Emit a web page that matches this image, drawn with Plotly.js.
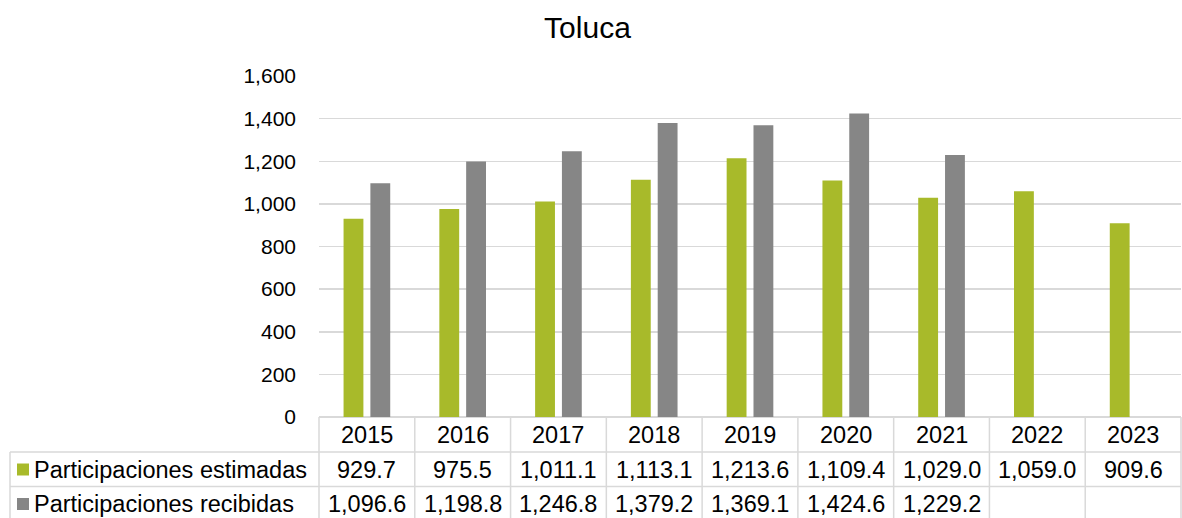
<!DOCTYPE html>
<html>
<head>
<meta charset="utf-8">
<script src="https://cdn.plot.ly/plotly-3.0.1.min.js"></script>
<style>html,body{margin:0;padding:0;background:#fff;} #chart{width:1182px;height:518px;}</style>
</head>
<body>
<div id="chart"></div>
<script>
// ---- data ----
var years = ['2015','2016','2017','2018','2019','2020','2021','2022','2023'];
var seriesNames = ['Participaciones estimadas','Participaciones recibidas'];
var estimadas = [929.7, 975.5, 1011.1, 1113.1, 1213.6, 1109.4, 1029.0, 1059.0, 909.6];
var recibidas = [1096.6, 1198.8, 1246.8, 1379.2, 1369.1, 1424.6, 1229.2, null, null];
var yTicks = [0, 200, 400, 600, 800, 1000, 1200, 1400, 1600];

// ---- styling / geometry ----
var W = 1182, H = 518;
var M = {l: 319, r: 1, t: 76, b: 101};
var colors = ['#A8BA2A', '#868686'];
var gridColor = '#D9D9D9';
var FONT = 'Liberation Sans, Arial, sans-serif';
var TABLE_SIZE = 23.5;
var plotBottom = H - M.b, plotH = H - M.t - M.b, plotW = W - M.l - M.r;
function py(p) { return (plotBottom - p) / plotH; }      // pixel y -> paper y
function px(p) { return (p - M.l) / plotW; }             // pixel x -> paper x
var rowLines = [452, 486.5, 522];   // bottom of header, row1, row2
var rowCenters = [434.5, 469.5, 504];

function fmt(v) {
  return v == null ? '' : v.toLocaleString('en-US', {minimumFractionDigits: 1, maximumFractionDigits: 1});
}

var traces = [
  {type: 'bar', x: years, y: estimadas, name: seriesNames[0], marker: {color: colors[0]}, hoverinfo: 'skip'},
  {type: 'bar', x: years, y: recibidas, name: seriesNames[1], marker: {color: colors[1]}, hoverinfo: 'skip'}
];

var shapes = [];
var annotations = [];
var lineStyle = {color: gridColor, width: 1.5};
// horizontal table lines
rowLines.forEach(function (r, i) {
  if (i < 2) shapes.push({type: 'line', xref: 'paper', yref: 'paper', x0: px(10), x1: 1, y0: py(r), y1: py(r), line: lineStyle});
});
// vertical lines: left label border, plot left edge, category boundaries, right edge
shapes.push({type: 'line', xref: 'paper', yref: 'paper', x0: px(10), x1: px(10), y0: py(rowLines[0]), y1: py(rowLines[2]), line: lineStyle});
shapes.push({type: 'line', xref: 'paper', yref: 'paper', x0: 0, x1: 0, y0: py(plotBottom), y1: py(rowLines[2]), line: lineStyle});
shapes.push({type: 'line', xref: 'paper', yref: 'paper', x0: 1, x1: 1, y0: py(plotBottom), y1: py(rowLines[2]), line: lineStyle});
for (var k = 1; k < years.length; k++) {
  shapes.push({type: 'line', xref: 'x', yref: 'paper', x0: k - 0.5, x1: k - 0.5, y0: py(plotBottom), y1: py(rowLines[2]), line: lineStyle});
}
// header row: years
years.forEach(function (yr, i) {
  annotations.push({xref: 'x', yref: 'paper', x: i, y: py(rowCenters[0]), text: yr, showarrow: false,
    xanchor: 'center', yanchor: 'middle', font: {family: FONT, size: TABLE_SIZE, color: '#000'}});
});
// value rows
[estimadas, recibidas].forEach(function (arr, r) {
  arr.forEach(function (v, i) {
    if (v == null) return;
    annotations.push({xref: 'x', yref: 'paper', x: i, y: py(rowCenters[r + 1]), text: fmt(v), showarrow: false,
      xanchor: 'center', yanchor: 'middle', font: {family: FONT, size: TABLE_SIZE, color: '#000'}});
  });
  // legend key square + label
  shapes.push({type: 'rect', xref: 'paper', yref: 'paper', x0: px(17), x1: px(29),
    y0: py(rowCenters[r + 1] - 6), y1: py(rowCenters[r + 1] + 6), fillcolor: colors[r], line: {width: 0}});
  annotations.push({xref: 'paper', yref: 'paper', x: px(32), y: py(rowCenters[r + 1]), text: seriesNames[r], showarrow: false,
    xanchor: 'left', yanchor: 'middle', font: {family: FONT, size: TABLE_SIZE, color: '#000'}});
});

var layout = {
  width: W, height: H,
  margin: M,
  paper_bgcolor: '#fff', plot_bgcolor: '#fff',
  showlegend: false,
  barmode: 'group', bargap: 0.44, bargroupgap: 0.26,
  title: {text: 'Toluca', x: 0.497, xref: 'container', xanchor: 'center', y: 1 - 27 / H, yref: 'container', yanchor: 'middle',
    font: {family: FONT, size: 30, color: '#000'}},
  xaxis: {type: 'category', range: [-0.5, years.length - 0.5], showticklabels: false, ticks: '', showgrid: false,
    zeroline: false, showline: false, fixedrange: true},
  yaxis: {range: [0, 1600], tickvals: yTicks, ticktext: yTicks.map(function (v) { return v.toLocaleString('en-US'); }),
    showgrid: true, gridcolor: gridColor, gridwidth: 1.5, zeroline: true, zerolinecolor: gridColor, zerolinewidth: 1.5,
    showline: false, ticks: '', ticklabelstandoff: 22, tickfont: {family: FONT, size: 21, color: '#000'}, fixedrange: true},
  shapes: shapes,
  annotations: annotations
};

Plotly.newPlot('chart', traces, layout, {displayModeBar: false, staticPlot: true});
</script>
</body>
</html>
